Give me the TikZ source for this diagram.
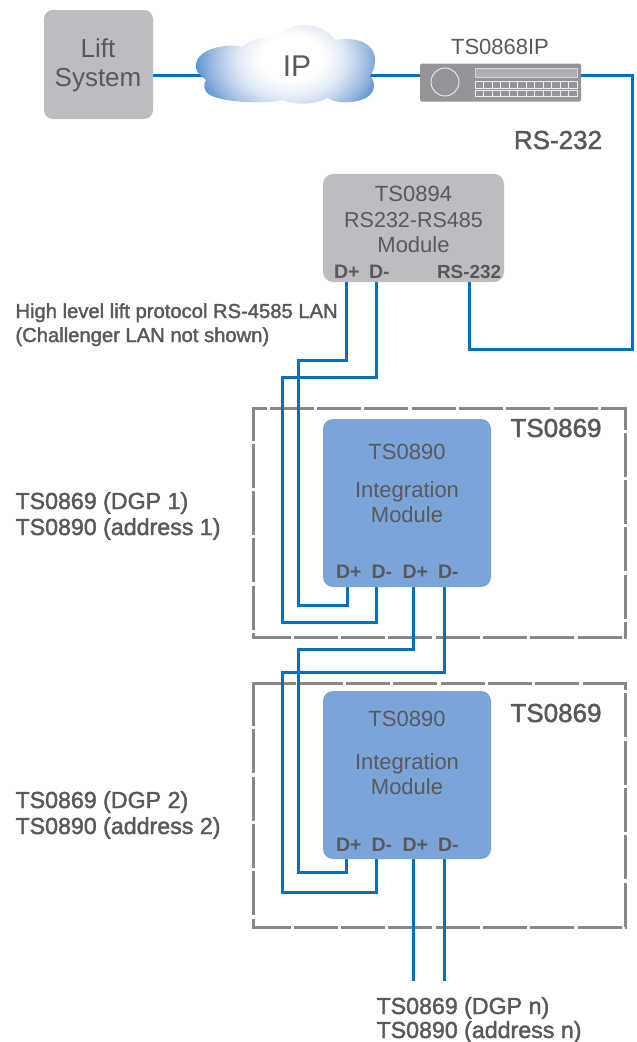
\documentclass[tikz,border=0pt]{standalone}
\usepackage{fontspec}
\setmainfont{Liberation Sans}
\newfontfamily\medf[FakeBold=1.8]{Liberation Sans}
\definecolor{txt}{HTML}{58595B}
\definecolor{wire}{HTML}{0A6FB9}
\definecolor{boxgrey}{HTML}{BCBDC0}
\definecolor{boxblue}{HTML}{7BA4D8}
\definecolor{framegrey}{HTML}{88888C}
\definecolor{devgrey}{HTML}{939598}
\pgfdeclareradialshading{cloudsh}{\pgfpoint{2bp}{3bp}}{%
  rgb(0bp)=(1,1,1);rgb(8bp)=(1,1,1);rgb(14bp)=(0.87,0.91,0.96);
  rgb(20bp)=(0.62,0.73,0.88);rgb(25bp)=(0.30,0.55,0.80);rgb(29bp)=(0.04,0.44,0.73);rgb(50bp)=(0.04,0.44,0.73)}
\tikzset{
  lbl/.style={inner sep=0pt,outer sep=0pt,text=txt,anchor=base},
  lblw/.style={inner sep=0pt,outer sep=0pt,text=txt,anchor=base west},
  big/.style={font=\fontsize{22}{26}\selectfont},
  port/.style={font=\fontsize{19.5}{22}\selectfont\bfseries},
  portwide/.style={font=\fontsize{18.9}{22}\selectfont\bfseries},
  note/.style={font=\fontsize{23.2}{26}\medf},
  smallnote/.style={font=\fontsize{20.2}{24}\medf},
  hdr/.style={font=\fontsize{26}{30}\medf},
  greybox/.style={fill=boxgrey,rounded corners=9pt,inner sep=0pt,outer sep=0pt,anchor=north west},
  bluebox/.style={fill=boxblue,rounded corners=10pt,inner sep=0pt,outer sep=0pt,anchor=north west,minimum width=168pt,minimum height=168pt},
  cable/.style={draw=wire,line width=3pt,line join=miter},
  frameside/.style={draw=framegrey,line width=3pt,dash pattern=on 44pt off 3.3pt,shorten <=-1.5pt,shorten >=-1.5pt},
}
\begin{document}
\begin{tikzpicture}[x=1pt,y=-1pt]
\useasboundingbox (0,0) rectangle (637,1042);
% dashed frames
\coordinate (fa1) at (253,408); \coordinate (fa2) at (625,408);
\coordinate (fa3) at (625,637); \coordinate (fa4) at (253,637);
\coordinate (fb1) at (253,683.5); \coordinate (fb2) at (625,683.5);
\coordinate (fb3) at (625,927); \coordinate (fb4) at (253,927);
\draw[frameside,dash phase=29pt] (fa1) -- (fa2);
\draw[frameside,dash phase=10pt] (fa1) -- (fa4);
\draw[frameside,dash phase=21pt] (fa2) -- (fa3);
\draw[frameside,dash phase=5pt] (fa4) -- (fa3);
\draw[frameside,dash phase=0pt] (fb1) -- (fb2);
\draw[frameside,dash phase=0pt] (fb1) -- (fb4);
\draw[frameside,dash phase=36pt] (fb2) -- (fb3);
\draw[frameside,dash phase=5pt] (fb4) -- (fb3);
% anchors
\coordinate (liftR) at (150,75);
\coordinate (cloudL) at (204,75);
\coordinate (cloudR) at (366,75);
\coordinate (devL) at (424,75);
\coordinate (devR) at (578,75);
\coordinate (modDp) at (346,280);
\coordinate (modDm) at (376,280);
\coordinate (modRS) at (469,280);
\coordinate (aInP) at (347,584);
\coordinate (aInM) at (376,584);
\coordinate (aOutP) at (413.5,584);
\coordinate (aOutM) at (444,584);
\coordinate (bInP) at (346,856);
\coordinate (bInM) at (376,856);
\coordinate (bOutP) at (413.5,856);
\coordinate (bOutM) at (444,856);
\coordinate (endP) at (413.5,981);
\coordinate (endM) at (444,981);
% cables
\draw[cable] (liftR) -- (cloudL);
\draw[cable] (cloudR) -- (devL);
\draw[cable] (devR) -- (632.7,75) |- (modRS |- 0,349) -- (modRS);
\draw[cable] (modDp) -- (346,360) -- (298,360) -- (298,605) -- (347,605) -- (aInP);
\draw[cable] (modDm) -- (376,377) -- (282,377) -- (282,622) -- (376,622) -- (aInM);
\draw[cable] (aOutP) -- (413.5,649) -- (298,649) -- (298,872) -- (346,872) -- (bInP);
\draw[cable] (aOutM) -- (444,672) -- (282,672) -- (282,892) -- (376,892) -- (bInM);
\draw[cable] (bOutP) -- (endP);
\draw[cable] (bOutM) -- (endM);
% lift system
\node[greybox,minimum width=109pt,minimum height=109pt] (lift) at (44,10) {};
\node[lbl,font=\fontsize{26}{30}\selectfont] (liftA) at (98,57) {Lift};
\node[lbl,font=\fontsize{26}{30}\selectfont] (liftB) at (98,86) {System};
% cloud
\begin{scope}
\clip (200,75) .. controls (192,68) and (193,50) .. (225,46) .. controls (232,45) and (238,46) .. (242,47)
 .. controls (250,38) and (268,36) .. (280,36)
 .. controls (288,26) and (298,25) .. (304,25) .. controls (318,25) and (330,32) .. (335,40)
 .. controls (358,36) and (375,44) .. (375,60) .. controls (375,67) and (373,72) .. (370,76)
 .. controls (376,82) and (375,90) .. (370,95) .. controls (362,103) and (338,105) .. (327,98)
 .. controls (318,104) and (295,106) .. (283,100)
 .. controls (265,104) and (225,103) .. (210,95) .. controls (203,91) and (203,84) .. (206,80)
 -- cycle;
\shade[shading=cloudsh] (188,-8) rectangle (382,138);
\end{scope}
\node[lbl,font=\fontsize{30}{34}\selectfont] (ip) at (297,76) {IP};
% device
\node[lbl,big] (devname) at (500,54) {TS0868IP};
\node[fill=devgrey,rounded corners=1.5pt,inner sep=0pt,outer sep=0pt,anchor=north west,minimum width=161pt,minimum height=38pt] (dev) at (420,63.5) {};
\draw[white!85!devgrey,line width=0.9pt] (445,82) circle (14);
\draw[white!60!devgrey,fill=white!25!devgrey,line width=0.9pt] (475,68) rectangle (577,77);
\foreach \r in {81.7,90}{
  \foreach \c in {0,...,11}{
    \draw[white!85!devgrey,line width=0.8pt] ({475+\c*8.5},\r) rectangle ({475+(\c+1)*8.5},{\r+6.8});
  }
}
\node[lbl,hdr] (rs) at (558,149) {RS-232};
% converter
\node[greybox,rounded corners=10pt,minimum width=181pt,minimum height=108pt] (mod) at (323,174) {};
\node[lbl,big] (modA) at (413.5,201) {TS0894};
\node[lbl,font=\fontsize{21.5}{26}\selectfont] (modB) at (413.5,227.5) {RS232-RS485};
\node[lbl,big] (modC) at (413.5,252.5) {Module};
\node[lblw,port] (modP1) at (334,278) {D+};
\node[lblw,port] (modP2) at (369,278) {D-};
\node[lblw,portwide] (modP3) at (437,278) {RS-232};
\node[lblw,smallnote] (lanA) at (15.5,318) {High level lift protocol RS-4585 LAN};
\node[lblw,smallnote] (lanB) at (15.5,342) {(Challenger LAN not shown)};
% module 1
\node[bluebox] (ma) at (323,419) {};
\node[lbl,big] (maA) at (407,459) {TS0890};
\node[lbl,big] (maB) at (407,497) {Integration};
\node[lbl,big] (maC) at (407,522) {Module};
\node[lblw,port] (maP1) at (336,578) {D+};
\node[lblw,port] (maP2) at (371.5,578) {D-};
\node[lblw,port] (maP3) at (402.5,578) {D+};
\node[lblw,port] (maP4) at (438,578) {D-};
\node[lbl,hdr] (fa) at (556,437) {TS0869};
\node[lblw,note] (la1) at (15.5,509) {TS0869 (DGP 1)};
\node[lblw,note] (la2) at (15.5,535) {TS0890 (address 1)};
% module 2
\node[bluebox] (mb) at (323,691) {};
\node[lbl,big] (mbA) at (407,726) {TS0890};
\node[lbl,big] (mbB) at (407,769) {Integration};
\node[lbl,big] (mbC) at (407,794) {Module};
\node[lblw,port] (mbP1) at (336,851) {D+};
\node[lblw,port] (mbP2) at (371.5,851) {D-};
\node[lblw,port] (mbP3) at (402.5,851) {D+};
\node[lblw,port] (mbP4) at (438,851) {D-};
\node[lbl,hdr] (fb) at (556,722) {TS0869};
\node[lblw,note] (lb1) at (15.5,808) {TS0869 (DGP 2)};
\node[lblw,note] (lb2) at (15.5,834) {TS0890 (address 2)};
% end label
\node[lblw,note] (le1) at (376.5,1014) {TS0869 (DGP n)};
\node[lblw,note] (le2) at (376.5,1038) {TS0890 (address n)};
\end{tikzpicture}
\end{document}
